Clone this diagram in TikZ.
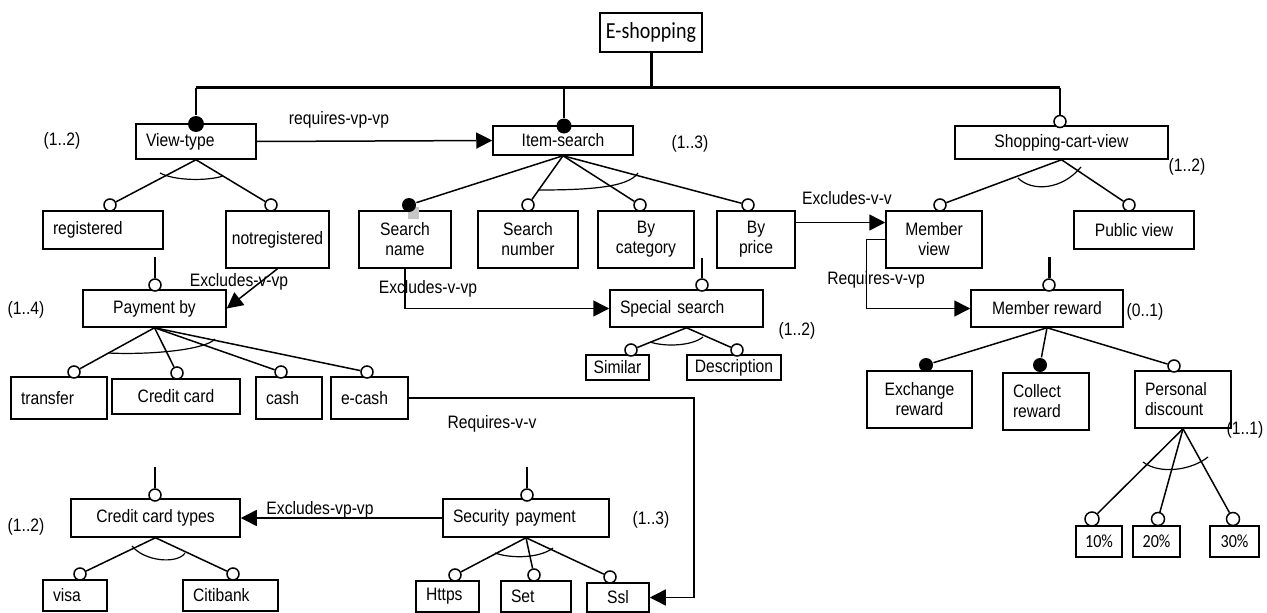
\documentclass[tikz,border=0pt]{standalone}
\usepackage{fontspec}
\setmainfont{Liberation Sans}[FakeStretch=0.87]
\newfontfamily\calfont{Carlito}[FakeStretch=0.87]
\usetikzlibrary{arrows.meta}
\begin{document}
\begin{tikzpicture}[x=1pt, y=-1pt, line width=1.5pt,
  every node/.style={font=\fontsize{18}{20}\selectfont},
  box/.style={draw, fill=white, inner sep=0pt, align=center},
  lbox/.style={box, inner xsep=10pt, text width=#1, align=left},
  pct/.style={box, font=\calfont\fontsize{18.5}{20}\selectfont, minimum height=31},
  opt/.style={circle, draw, fill=white, line width=1.5pt, minimum size=12pt, inner sep=0pt},
  mand/.style={circle, fill=black, minimum size=15pt, inner sep=0pt},
  link/.style={-{Triangle[length=16pt,width=16pt]}},
  arc/.style={line width=1.2pt},
  stub/.style={line width=2pt}]
\useasboundingbox (0,0) rectangle (1267,613);
\node[box, font=\calfont\fontsize{23}{26}\selectfont, minimum width=102, minimum height=39] (root) at (651,32.5) {E-shopping};
\node[lbox=100, minimum height=35] (vt) at (196,141.5) {View-type};
\node[box, minimum width=140, minimum height=29] (is) at (563,140.5) {Item-search};
\node[box, minimum width=213, minimum height=33] (sc) at (1061.5,142.5) {Shopping-cart-view};
\node[lbox=100, minimum height=38] (reg) at (103,230) {registered};
\node[box, minimum width=103, minimum height=57] (nreg) at (277.5,239.5) {notregistered};
\node[box, minimum width=92, minimum height=57] (sn) at (405,239.5) {Search\\name};
\node[box, minimum width=100, minimum height=57] (snum) at (528,239.5) {Search\\number};
\node[box, minimum width=96, minimum height=57] (bcat) at (646,239.5) {By\\category};
\node[box, minimum width=78, minimum height=57] (bp) at (756,239.5) {By\\price};
\node[box, minimum width=96, minimum height=57] (mv) at (934,239.5) {Member\\view};
\node[box, minimum width=120, minimum height=38] (pv) at (1134,230) {Public view};
\node[box, minimum width=143, minimum height=37] (pb) at (154.5,308.5) {Payment by};
\node[lbox=133, minimum height=37] (ss) at (686.5,308.5) {Special search};
\node[box, minimum width=152, minimum height=37] (mr) at (1047,308.5) {Member reward};
\node[box, minimum width=63, minimum height=25] (sim) at (617.5,367.5) {Similar};
\node[box, minimum width=94, minimum height=25] (desc) at (734,367.5) {Description};
\node[lbox=76, minimum height=42] (tr) at (59,398) {transfer};
\node[box, minimum width=128, minimum height=35] (cc) at (176,396.5) {Credit card};
\node[lbox=46, minimum height=42] (cash) at (289,398) {cash};
\node[lbox=57, minimum height=42] (ec) at (369.5,398) {e-cash};
\node[box, minimum width=105, minimum height=57] (ex) at (919.5,399.5) {Exchange\\reward};
\node[lbox=66, minimum height=57] (col) at (1046,401.5) {Collect\\reward};
\node[lbox=76, minimum height=57] (pd) at (1183,399.5) {Personal\\discount};
\node[box, minimum width=169, minimum height=38] (cct) at (155.5,518) {Credit card types};
\node[lbox=146, minimum height=38] (sp) at (526,518) {Security payment};
\node[pct, minimum width=46] (p10) at (1099,541.5) {10\%};
\node[pct, minimum width=47] (p20) at (1156.5,541.5) {20\%};
\node[pct, minimum width=49] (p30) at (1234.5,541.5) {30\%};
\node[lbox=44, minimum height=31] (visa) at (75,595.5) {visa};
\node[lbox=75, minimum height=31] (citi) at (230.5,595.5) {Citibank};
\node[lbox=43, minimum height=31] (https) at (447.5,596.5) {Https};
\node[lbox=50, minimum height=31] (set) at (536,596.5) {Set};
\node[box, minimum width=62, minimum height=29] (ssl) at (618,597.5) {Ssl};
\fill[gray!45] (408,207) rectangle (419,219);
\node[mand, minimum size=16pt] (vt-c) at (196,124) {};
\node[mand] (is-c) at (564,126) {};
\node[opt] (sc-c) at (1060,121.5) {};
\node[opt] (reg-c) at (110,205) {};
\node[opt] (nreg-c) at (271,205) {};
\node[mand, minimum size=14pt] (sn-c) at (409,205) {};
\node[opt] (snum-c) at (528,205) {};
\node[opt] (bcat-c) at (640,205) {};
\node[opt] (bp-c) at (748,205) {};
\node[opt] (mv-c) at (940,205) {};
\node[opt] (pv-c) at (1129,205) {};
\node[opt] (pb-c) at (155,285) {};
\node[opt] (ss-c) at (702,285) {};
\node[opt] (mr-c) at (1049,285) {};
\node[opt] (sim-c) at (631,350) {};
\node[opt] (desc-c) at (737,350) {};
\node[opt] (tr-c) at (74,372) {};
\node[opt] (cc-c) at (177,373) {};
\node[opt] (cash-c) at (281,372) {};
\node[opt] (ec-c) at (367,372) {};
\node[mand, minimum size=14pt] (ex-c) at (926,365) {};
\node[mand, minimum size=14pt] (col-c) at (1040,365) {};
\node[opt] (pd-c) at (1174,366) {};
\node[opt] (cct-c) at (155,495) {};
\node[opt] (sp-c) at (527,495) {};
\node[opt, minimum size=14pt] (p10-c) at (1092,519) {};
\node[opt, minimum size=13pt] (p20-c) at (1158,519) {};
\node[opt, minimum size=13pt] (p30-c) at (1233,519) {};
\node[opt] (visa-c) at (80,574) {};
\node[opt] (citi-c) at (233,574) {};
\node[opt] (https-c) at (455,575) {};
\node[opt] (set-c) at (534,575) {};
\node[opt] (ssl-c) at (610,577) {};
\coordinate (barL) at (196,87.5);
\coordinate (barR) at (1060,87.5);
\draw[line width=3pt] (barL) -- (barR);
\draw[line width=3pt] (root) -- (root |- barL);
\draw (barL) -- (vt-c);
\draw (is-c |- barL) -- (is-c);
\draw[line width=2.5pt] (barR) -- (sc-c);
\foreach \c in {reg-c, nreg-c} \draw (vt.south) -- (\c);
\foreach \c in {sn-c, snum-c, bcat-c, bp-c} \draw (is.south) -- (\c);
\foreach \c in {mv-c, pv-c} \draw (sc.south) -- (\c);
\foreach \c in {tr-c, cc-c, cash-c, ec-c} \draw (pb.south) -- (\c);
\foreach \c in {sim-c, desc-c} \draw (ss.south) -- (\c);
\foreach \c in {ex-c, col-c, pd-c} \draw (mr.south) -- (\c);
\foreach \c in {p10-c, p20-c, p30-c} \draw (pd.south) -- (\c);
\foreach \c in {visa-c, citi-c} \draw (cct.south) -- (\c);
\foreach \c in {https-c, set-c, ssl-c} \draw (sp.south) -- (\c);
\coordinate (pb-t) at (155,257);
\coordinate (ss-t) at (702,258);
\coordinate (mr-t) at (1049,257);
\coordinate (cct-t) at (155,467);
\coordinate (sp-t) at (527,467);
\draw[stub] (pb-t) -- (pb-c);
\draw[stub] (ss-t) -- (ss-c);
\draw[line width=3pt] (mr-t) -- (mr-c);
\draw[stub] (cct-t) -- (cct-c);
\draw[stub] (sp-t) -- (sp-c);
\draw[arc] (160,173) .. controls (175,181) and (208,181) .. (223,176);
\draw[arc] (538,190) .. controls (585,190) and (628,188) .. (638,173);
\draw[arc] (1018,178) .. controls (1032,192) and (1062,190) .. (1081,167);
\draw[arc] (108,353) .. controls (150,355) and (205,350) .. (215,339);
\draw[arc] (650,342) .. controls (665,347) and (692,346) .. (703,337);
\draw[arc] (132,546) .. controls (145,562) and (178,564) .. (185,553);
\draw[arc] (495,553) .. controls (512,559) and (540,558) .. (553,548);
\draw[arc] (1143,462) .. controls (1160,475) and (1192,470) .. (1208,457);
\draw[link] (vt.east) -- (is.west);
\draw[link] (nreg.south) -- (pb.east);
\draw[link] ([yshift=17pt]bp.east) -- ([yshift=17pt]mv.west);
\draw[link] (sn.south) |- (ss.west);
\draw[link] (mv.west) -- ++(-19,0) |- (mr.west);
\draw[link] (ec.east) -| ([xshift=44pt]ssl.east) -- (ssl.east);
\draw[link] (sp.west) -- (cct.east);
\node (vt-m) at (62,141) {(1..2)};
\node (is-m) at (690,144) {(1..3)};
\node (sc-m) at (1187,167) {(1..2)};
\node (pb-m) at (26,310) {(1..4)};
\node (ss-m) at (797,331) {(1..2)};
\node (mr-m) at (1145,312) {(0..1)};
\node (pd-m) at (1245,430) {(1..1)};
\node (cct-m) at (26,527) {(1..2)};
\node (sp-m) at (651,520) {(1..3)};
\node (vt-is) at (339,120) {requires-vp-vp};
\node (nreg-pb) at (239,282) {Excludes-v-vp};
\node (bp-mv) at (847,198) {Excludes-v-v};
\node (mv-mr) at (876,280) {Requires-v-vp};
\node (sn-ss) at (428,289) {Excludes-v-vp};
\node (ec-ssl) at (492,424) {Requires-v-v};
\node (sp-cct) at (320,510) {Excludes-vp-vp};
\end{tikzpicture}
\end{document}
